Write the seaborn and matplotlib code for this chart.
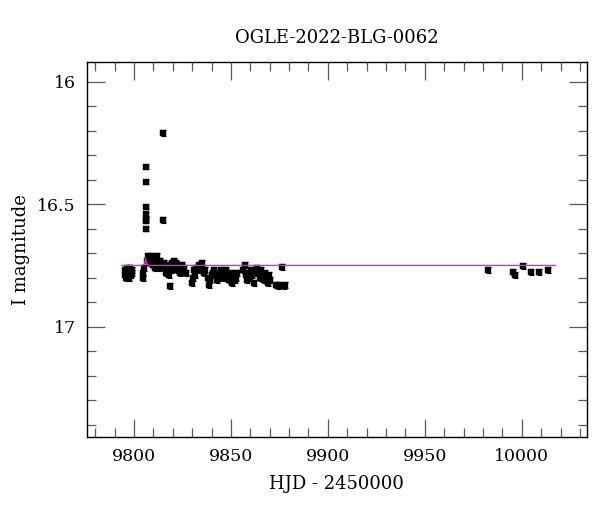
import numpy as np
import matplotlib
matplotlib.use("Agg")
import matplotlib.pyplot as plt
from matplotlib.ticker import MultipleLocator
import seaborn as sns

TITLE = "OGLE-2022-BLG-0062"

# photometria (HJD - 2450000, magnitude I)
hjd = [9795.2, 9795.5, 9795.8, 9796.1, 9796.3, 9796.7, 9797.0, 9797.3, 9797.6, 9797.9,
       9798.2, 9798.5, 9798.8, 9799.1,
       9804.5, 9804.8, 9805.2,
       9806.0, 9806.0, 9806.0, 9806.0, 9806.0, 9806.0, 9806.0,
       9806.8, 9807.3, 9807.8, 9808.3, 9808.7, 9809.2, 9809.6, 9810.1, 9810.5, 9811.0,
       9811.4, 9811.9, 9812.3, 9812.8, 9813.2, 9813.7,
       9814.8, 9814.9,
       9815.5, 9816.0, 9816.5, 9817.0, 9817.5, 9818.0, 9818.6, 9819.2, 9819.8, 9820.3,
       9820.8, 9821.3, 9821.8, 9822.3, 9822.8, 9823.5, 9824.0, 9824.6, 9825.2, 9826.0, 9826.7,
       9830.0, 9830.6, 9831.1, 9831.7, 9832.2, 9833.5, 9834.1, 9834.7, 9835.3, 9836.0,
       9836.6, 9838.2, 9838.8, 9839.4, 9840.0, 9840.6, 9841.5, 9842.1, 9842.8, 9843.4,
       9844.0, 9844.7, 9845.3, 9846.0, 9846.6, 9847.3, 9848.2, 9848.8, 9849.5, 9850.1,
       9850.8, 9851.4, 9852.0, 9852.7, 9853.3,
       9856.3, 9857.2, 9857.8, 9858.4, 9859.0, 9859.7, 9860.3, 9861.0, 9861.7, 9862.4,
       9863.5, 9864.2, 9864.9, 9865.5, 9866.2, 9866.9, 9867.6, 9868.3, 9869.0, 9869.7, 9870.4,
       9873.5, 9874.2, 9875.0, 9876.6, 9877.4, 9878.1,
       9982.6, 9995.5, 9996.7, 10000.8, 10004.6, 10008.6, 10013.6]
mag = [16.77, 16.79, 16.78, 16.80, 16.76, 16.78, 16.79, 16.77, 16.80, 16.78,
       16.76, 16.79, 16.78, 16.77,
       16.78, 16.80, 16.76,
       16.35, 16.41, 16.51, 16.54, 16.56, 16.57, 16.60,
       16.73, 16.71, 16.72, 16.74, 16.71, 16.73, 16.75, 16.72, 16.74, 16.76,
       16.73, 16.71, 16.74, 16.76, 16.73, 16.75,
       16.21, 16.565,
       16.74, 16.76, 16.78, 16.75, 16.77, 16.79, 16.835, 16.77, 16.74, 16.75,
       16.73, 16.76, 16.74, 16.77, 16.75, 16.76, 16.78, 16.75, 16.77, 16.76, 16.78,
       16.82, 16.80, 16.77, 16.79, 16.76, 16.75, 16.77, 16.76, 16.74, 16.78,
       16.77, 16.80, 16.83, 16.81, 16.79, 16.78, 16.77, 16.79, 16.81, 16.78,
       16.80, 16.77, 16.79, 16.78, 16.80, 16.77, 16.79, 16.81, 16.80, 16.78,
       16.82, 16.79, 16.81, 16.80, 16.78,
       16.77, 16.75, 16.79, 16.81, 16.78, 16.80, 16.77, 16.79, 16.82, 16.78,
       16.76, 16.78, 16.80, 16.77, 16.79, 16.81, 16.78, 16.80, 16.82, 16.79, 16.81,
       16.83, 16.835, 16.83, 16.755, 16.835, 16.83,
       16.768, 16.778, 16.79, 16.751, 16.778, 16.778, 16.768]
err = [0.012] * 17 + [0.008] * 7 + [0.012] * (len(hjd) - 24)

# modelo
model_hjd = [9793.8, 9804.0, 9805.5, 9806.0, 9806.5, 9808.0, 10017.5]
model_mag = [16.75, 16.75, 16.745, 16.72, 16.745, 16.75, 16.75]

sns.set_style("ticks")
plt.rcParams['font.family'] = ['DejaVu Serif']
plt.rcParams['text.color'] = 'black'
plt.rcParams['axes.labelcolor'] = 'black'
plt.rcParams['xtick.labelcolor'] = 'black'
plt.rcParams['ytick.labelcolor'] = 'black'

fig = plt.figure(figsize=(6, 5.12), dpi=100)
ax = fig.add_axes([0.145, 0.1465, 0.833, 0.7324])

ax.errorbar(hjd, mag, yerr=err, fmt='none', ecolor='black', elinewidth=0.8,
            capsize=1.8, capthick=0.8, zorder=2)
sns.scatterplot(x=hjd, y=mag, marker='s', s=15, color='black', edgecolor='black',
                linewidth=0.3, ax=ax, zorder=3)
sns.lineplot(x=model_hjd, y=model_mag, color='#cc33cc', linewidth=1.0, ax=ax,
             zorder=4, sort=False)

ax.set_xlim(9775.8, 10033.5)
ax.set_ylim(17.45, 15.92)
ax.xaxis.set_major_locator(MultipleLocator(50))
ax.xaxis.set_minor_locator(MultipleLocator(10))
ax.set_yticks([16, 16.5, 17])
ax.set_yticklabels(['16', '16.5', '17'])
ax.yaxis.set_minor_locator(MultipleLocator(0.1))
ax.tick_params(which='both', direction='in', top=True, right=True, color='0.35',
               labelsize=12.5, width=0.9)
ax.tick_params(which='major', length=13, pad=8)
ax.tick_params(which='minor', length=6.5)
for s in ax.spines.values():
    s.set_linewidth(1.0)
    s.set_color('black')

ax.set_title(TITLE, fontsize=13, pad=14)
ax.set_xlabel("HJD - 2450000", fontsize=13, labelpad=7)
ax.set_ylabel("I magnitude", fontsize=13, labelpad=5)

fig.savefig("out.png", dpi=100)
